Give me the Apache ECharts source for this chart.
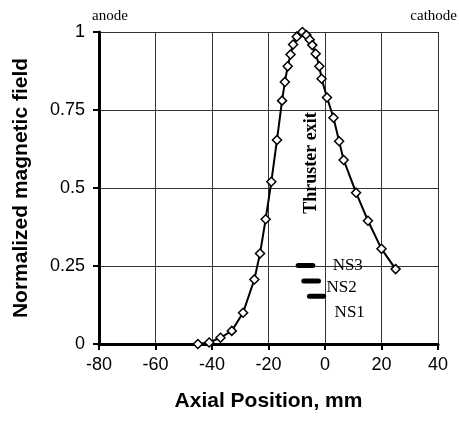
<!DOCTYPE html>
<html>
<head>
<meta charset="utf-8">
<script src="https://cdn.jsdelivr.net/npm/echarts@6/dist/echarts.min.js"></script>
<style>
  html, body { margin: 0; padding: 0; background: #fff; }
  #chart { width: 459px; height: 426px; }
</style>
</head>
<body>
<div id="chart"></div>
<script>
// axial position (mm) and normalized field
const positionMm = [-45, -41, -37, -33, -29, -25, -23, -21, -19, -17, -15.2, -14.2, -13.2, -12.2, -11.3, -10, -8,
  -6.6, -5.4, -4.5, -3.3, -2, -1.2, 0.7, 3, 5, 6.6, 11, 15.2, 20, 25];
const fieldNorm = [0, 0.005, 0.02, 0.042, 0.1, 0.207, 0.29, 0.4, 0.52, 0.654, 0.78, 0.84, 0.89, 0.928, 0.96, 0.985, 1.0,
  0.99, 0.975, 0.958, 0.93, 0.89, 0.85, 0.79, 0.725, 0.65, 0.59, 0.485, 0.395, 0.305, 0.24];

// probe positions (short thick bars)
const probeNames = ['NS3', 'NS2', 'NS1'];
const probeStart = [-9.5, -7.5, -5.5];
const probeEnd = [-4.3, -2.3, -0.5];
const probeLevel = [0.252, 0.202, 0.153];
// where each probe label starts (left edge, vertical centre)
const probeLabelX = [2.7, 0.5, 3.4];
const probeLabelY = [0.253, 0.18, 0.102];

const probeBars = probeNames.map((n, i) => ({
  type: 'line',
  data: [[probeStart[i], probeLevel[i]], [probeEnd[i], probeLevel[i]]],
  symbol: 'none',
  silent: true,
  lineStyle: { color: '#000', width: 5, cap: 'round' },
  z: 4
}));

const labelStyle = { color: '#000', opacity: 1, textBorderWidth: 0, textBorderColor: 'transparent' };

const chart = echarts.init(document.getElementById('chart'));
chart.setOption({
  animation: false,
  grid: { left: 99, right: 21, top: 32, bottom: 82 },
  xAxis: {
    type: 'value', min: -80, max: 40, interval: 20,
    name: 'Axial Position, mm', nameLocation: 'middle', nameGap: 47,
    nameTextStyle: { fontFamily: 'Liberation Sans', fontWeight: 'bold', fontSize: 21, color: '#000' },
    axisLine: { show: true, onZero: false, lineStyle: { color: '#000', width: 3 } },
    axisTick: { show: true, length: 6, lineStyle: { color: '#000', width: 2 } },
    axisLabel: { fontFamily: 'Liberation Sans', fontSize: 18, color: '#000', margin: 12 },
    splitLine: { show: true, lineStyle: { color: '#333', width: 1 } }
  },
  yAxis: {
    type: 'value', min: 0, max: 1, interval: 0.25,
    name: 'Normalized magnetic field', nameLocation: 'middle', nameGap: 67,
    nameTextStyle: { fontFamily: 'Liberation Sans', fontWeight: 'bold', fontSize: 21, color: '#000' },
    axisLine: { show: true, onZero: false, lineStyle: { color: '#000', width: 3 } },
    axisTick: { show: true, length: 6, lineStyle: { color: '#000', width: 2 } },
    axisLabel: { fontFamily: 'Liberation Sans', fontSize: 18, color: '#000', margin: 14 },
    splitLine: { show: true, lineStyle: { color: '#333', width: 1 } }
  },
  graphic: [
    { type: 'text', left: 92, top: 9, style: { text: 'anode', font: '15px "Liberation Serif"', fill: '#000' } },
    { type: 'text', right: 2, top: 9, style: { text: 'cathode', font: '15px "Liberation Serif"', fill: '#000' } }
  ],
  series: [
    {
      type: 'line',
      data: positionMm.map((x, i) => [x, fieldNorm[i]]),
      symbol: 'diamond',
      symbolSize: 9,
      lineStyle: { color: '#000', width: 2 },
      itemStyle: { color: '#fff', borderColor: '#000', borderWidth: 1.5 },
      z: 5
    },
    ...probeBars,
    {
      type: 'scatter',
      symbolSize: 0,
      silent: true,
      itemStyle: { color: '#000' },
      data: probeNames.map((n, i) => ({ name: n, value: [probeLabelX[i], probeLabelY[i]] })),
      label: Object.assign({
        show: true, position: 'right', distance: 0,
        formatter: p => p.name,
        fontFamily: 'Liberation Serif', fontSize: 17
      }, labelStyle)
    },
    {
      type: 'scatter',
      symbolSize: 0,
      silent: true,
      itemStyle: { color: '#000' },
      data: [{ name: 'Thruster exit', value: [-4.7, 0.58] }],
      label: Object.assign({
        show: true, position: 'inside', rotate: 90,
        formatter: p => p.name,
        fontFamily: 'Liberation Serif', fontWeight: 'bold', fontSize: 18
      }, labelStyle)
    }
  ]
});
</script>
</body>
</html>
